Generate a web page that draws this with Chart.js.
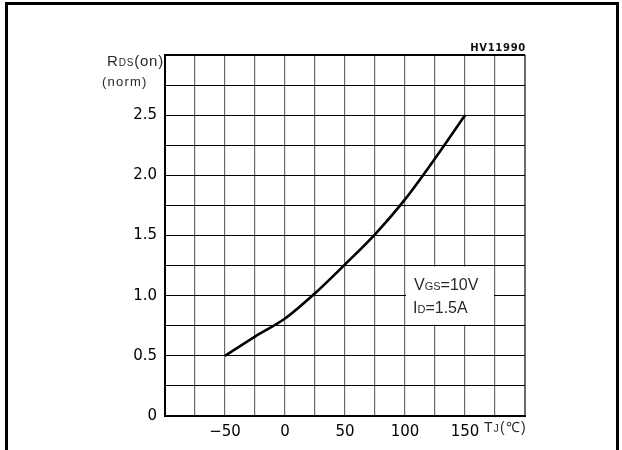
<!DOCTYPE html>
<html><head><meta charset="utf-8">
<script src="https://cdn.jsdelivr.net/npm/chart.js@4.4.0/dist/chart.umd.min.js"></script>
<style>html,body{margin:0;padding:0;background:#fff}#wrap{width:622px;height:450px}</style>
</head><body><div id="wrap"><canvas id="c" width="622" height="450"></canvas></div>
<script>
// Data
const temperatures = [-50, -25, 0, 25, 50, 75, 100, 125, 150];
const rdsOnNorm    = [0.5, 0.66, 0.81, 1.02, 1.26, 1.51, 1.80, 2.14, 2.5];
const xTickValues  = [-50, 0, 50, 100, 150];
const xTickLabels  = ['\u221250', '0', '50', '100', '150'];
const yTickValues  = [0, 0.5, 1.0, 1.5, 2.0, 2.5];
const yTickLabels  = ['0', '0.5', '1.0', '1.5', '2.0', '2.5'];
const chartCode    = 'HV11990';
const conditionVgs = ['V', 'GS', '=10V'];
const conditionId  = ['I', 'D', '=1.5A'];
const yTitleLine1  = ['R', 'DS', '(on)'];
const yTitleLine2  = '(norm)';
const xTitle       = ['T', 'J', '(\u2103)'];

const TXT = '"Liberation Sans", Arial, sans-serif';
const NUM = '"DejaVu Sans", Verdana, sans-serif';

function drawRuns(ctx, x, y, parts, big, small, align, spacing) {
  const runs = [
    {t: parts[0], f: big + 'px ' + TXT},
    {t: parts[1], f: small + 'px ' + TXT},
    {t: parts[2], f: big + 'px ' + TXT}
  ];
  ctx.letterSpacing = (spacing || 0) + 'px';
  let total = 0;
  runs.forEach(r => { ctx.font = r.f; r.w = ctx.measureText(r.t).width; total += r.w; });
  let cx = align === 'right' ? x - total : x;
  ctx.textAlign = 'left';
  ctx.textBaseline = 'alphabetic';
  runs.forEach(r => { ctx.font = r.f; ctx.fillText(r.t, cx, y); cx += r.w; });
  ctx.letterSpacing = '0px';
}

const decor = {
  id: 'decor',
  beforeDatasetsDraw(chart) {
    const {ctx, scales: {x, y}} = chart;
    ctx.save();
    ctx.fillStyle = '#fff';
    const l = x.getPixelForValue(100) + 1, r = x.getPixelForValue(175) - 1;
    const t = y.getPixelForValue(1.25) + 1, b = y.getPixelForValue(0.75) - 1;
    ctx.fillRect(l, t, r - l, b - t);
    ctx.restore();
  },
  afterDraw(chart) {
    const {ctx, chartArea: a} = chart;
    ctx.save();
    ctx.fillStyle = '#000';
    // outer frame (top, left, right)
    ctx.fillRect(5, 2, 614, 3);
    ctx.fillRect(5, 2, 3, 448);
    ctx.fillRect(616, 2, 3, 448);
    // chart code
    ctx.fillStyle = '#111';
    ctx.font = 'bold 10px ' + NUM;
    ctx.letterSpacing = '0.7px';
    ctx.textAlign = 'right';
    ctx.textBaseline = 'alphabetic';
    ctx.fillText(chartCode, a.right + 1, 51);
    ctx.letterSpacing = '0px';
    // y title
    ctx.fillStyle = '#2a2a2a';
    drawRuns(ctx, a.left - 1, 66, yTitleLine1, 15, 10, 'right', 0.8);
    ctx.font = '13px ' + TXT;
    ctx.letterSpacing = '1.2px';
    ctx.textAlign = 'left';
    ctx.fillText(yTitleLine2, 102, 86);
    ctx.letterSpacing = '0px';
    // x title
    drawRuns(ctx, 484, 432, xTitle, 14, 10, 'left', 1.2);
    // conditions
    const x = chart.scales.x;
    const bx = x.getPixelForValue(100) + 9;
    drawRuns(ctx, bx, 290, conditionVgs, 16, 11, 'left', 0);
    drawRuns(ctx, bx - 1, 313, conditionId, 16, 11, 'left', 0);
    ctx.restore();
  }
};

const pickLabel = (vals, labs) => (v) => {
  const i = vals.findIndex(t => Math.abs(t - v) < 1e-6);
  return i >= 0 ? labs[i] : '';
};

new Chart(document.getElementById('c'), {
  type: 'scatter',
  data: {
    datasets: [{
      data: temperatures.map((t, i) => ({x: t, y: rdsOnNorm[i]})),
      showLine: true,
      borderColor: '#000',
      borderWidth: 2.6,
      pointRadius: 0,
      cubicInterpolationMode: 'monotone',
      fill: false
    }]
  },
  options: {
    responsive: false,
    animation: false,
    devicePixelRatio: 1,
    layout: {padding: {left: 0, top: 55, right: 97, bottom: 0}},
    plugins: {legend: {display: false}, tooltip: {enabled: false}},
    scales: {
      x: {
        type: 'linear', min: -100, max: 200,
        afterFit: s => { s.height = 34; },
        ticks: {stepSize: 25, autoSkip: false, maxRotation: 0, padding: 7,
                color: '#000', font: {family: NUM, size: 15},
                callback: pickLabel(xTickValues, xTickLabels)},
        grid: {color: '#6a6a6a', drawTicks: false,
               lineWidth: c => (c.tick && (c.tick.value === -100 || c.tick.value === 200)) ? 2 : 1.2},
        border: {display: true, color: '#000', width: 2}
      },
      y: {
        min: 0, max: 3,
        afterFit: s => { s.width = 165; },
        ticks: {stepSize: 0.25, autoSkip: false, padding: 8,
                color: '#000', font: {family: NUM, size: 15},
                callback: pickLabel(yTickValues, yTickLabels)},
        grid: {color: '#000', drawTicks: false,
               lineWidth: c => (c.tick && (c.tick.value === 0 || c.tick.value === 3)) ? 2 : 1},
        border: {display: true, color: '#000', width: 2}
      }
    }
  },
  plugins: [decor]
});
</script>
</body></html>
